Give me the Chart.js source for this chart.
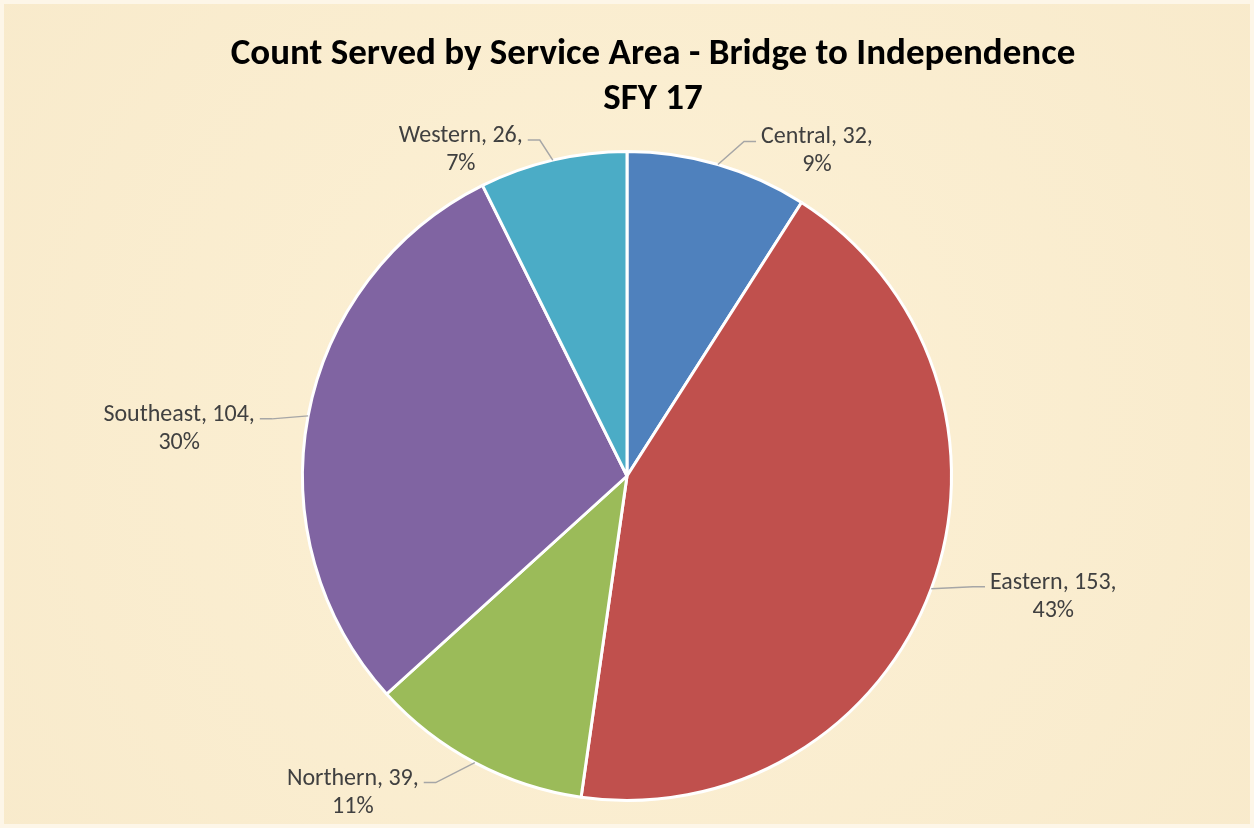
<!DOCTYPE html>
<html>
<head>
<meta charset="utf-8">
<script src="https://cdn.jsdelivr.net/npm/chart.js@4"></script>
<style>
  body { margin: 0; background: #fdf6e8; }
  canvas { display: block; }
</style>
</head>
<body>
<canvas id="pieChart" width="1254" height="828"></canvas>
<script>
var areas = ['Central', 'Eastern', 'Northern', 'Southeast', 'Western'];
var served = [32, 153, 39, 104, 26];
var pctLabels = ['9%', '43%', '11%', '30%', '7%'];
var sliceColors = ['#4f81bd', '#c0504d', '#9bbb59', '#8064a2', '#4bacc6'];
var titleLines = ['Count Served by Service Area - Bridge to Independence', 'SFY 17'];

// where each label block sits, relative to the slice's edge point
var labelOffsets = [[99, -13], [122, 8], [-122, 30], [-129, 13], [-92, -10]];

var parchment = {
    id: 'parchment',
    beforeDraw: function (chart) {
        var ctx = chart.ctx;
        ctx.save();
        var g = ctx.createRadialGradient(627, 414, 100, 627, 414, 800);
        g.addColorStop(0, '#fcf0d4');
        g.addColorStop(1, '#f8eacb');
        ctx.fillStyle = g;
        ctx.fillRect(4, 4, chart.width - 8, chart.height - 8);
        ctx.restore();
    }
};

// title sits a little right of the pie centre in the original
var chartTitle = {
    id: 'chartTitle',
    afterDraw: function (chart) {
        var ctx = chart.ctx;
        ctx.save();
        ctx.font = 'bold 37px Carlito, Lato, sans-serif';
        ctx.fillStyle = '#000000';
        ctx.textAlign = 'center';
        ctx.textBaseline = 'middle';
        ctx.fillText(titleLines[0], 653, 55);
        ctx.fillText(titleLines[1], 653, 100);
        ctx.restore();
    }
};

var sliceLabels = {
    id: 'sliceLabels',
    afterDatasetsDraw: function (chart) {
        var ctx = chart.ctx;
        var meta = chart.getDatasetMeta(0);
        ctx.save();
        ctx.font = '24px Carlito, Lato, sans-serif';
        ctx.textAlign = 'center';
        ctx.textBaseline = 'middle';
        meta.data.forEach(function (arc, i) {
            var mid = (arc.startAngle + arc.endAngle) / 2;
            var ex = arc.x + Math.cos(mid) * arc.outerRadius;
            var ey = arc.y + Math.sin(mid) * arc.outerRadius;
            var cx = ex + labelOffsets[i][0];
            var cy = ey + labelOffsets[i][1];
            var line1 = areas[i] + ', ' + served[i] + ',';
            var w = ctx.measureText(line1).width;
            var right = labelOffsets[i][0] > 0;
            var endX = right ? cx - w / 2 - 5 : cx + w / 2 + 5;
            var endY = cy - 14 + 4;
            var elbowX = right ? endX - 12 : endX + 12;

            ctx.strokeStyle = '#a6a6a6';
            ctx.lineWidth = 1.5;
            ctx.beginPath();
            ctx.moveTo(ex, ey);
            ctx.lineTo(elbowX, endY);
            ctx.lineTo(endX, endY);
            ctx.stroke();

            ctx.fillStyle = '#404040';
            ctx.fillText(line1, cx, cy - 14);
            ctx.fillText(pctLabels[i], cx, cy + 14);
        });
        ctx.restore();
    }
};

var ctx = document.getElementById('pieChart').getContext('2d');
var myChart = new Chart(ctx, {
    type: 'pie',
    data: {
        labels: areas,
        datasets: [{
            data: served,
            backgroundColor: sliceColors,
            borderColor: '#ffffff',
            borderWidth: 3
        }]
    },
    options: {
        responsive: false,
        animation: false,
        devicePixelRatio: 1,
        layout: { padding: { top: 150, bottom: 26, left: 0, right: 0 } },
        plugins: {
            legend: { display: false },
            tooltip: { enabled: false },
            title: { display: false }
        }
    },
    plugins: [parchment, chartTitle, sliceLabels]
});
</script>
</body>
</html>
